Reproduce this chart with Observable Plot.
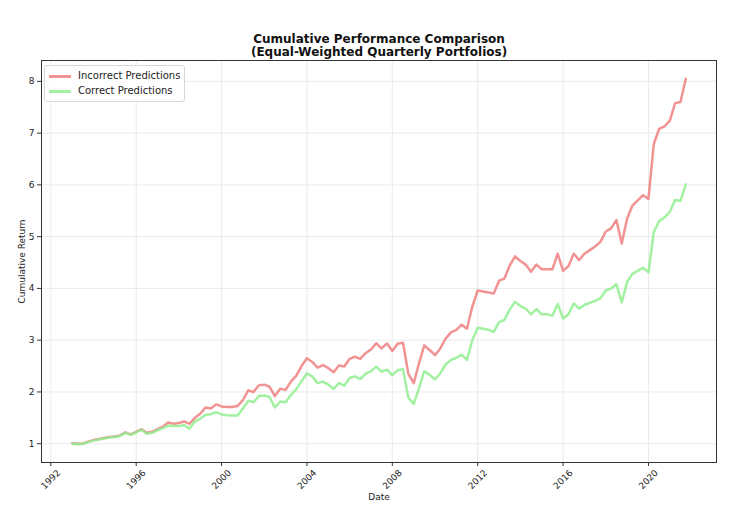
<!DOCTYPE html>
<html>
<head>
<meta charset="utf-8">
<script src="https://cdn.jsdelivr.net/npm/d3@7"></script>
<script src="https://cdn.jsdelivr.net/npm/@observablehq/plot@0.6"></script>
<style>
  html, body { margin: 0; padding: 0; background: #fff; }
  #wrap { position: relative; width: 750px; height: 505px; font-family: "DejaVu Sans", sans-serif; }
  #legend { position: absolute; left: 44px; top: 65px; width: 139px; height: 35px;
    border: 1px solid #d6d6d6; border-radius: 3px; background: rgba(255,255,255,0.85);
    font-size: 10px; color: #222; }
  .row { position: absolute; left: 0; height: 14px; line-height: 14px; }
  .sw { position: absolute; left: 4px; top: 6px; width: 22px; height: 2.5px; }
  .lab { position: absolute; left: 33px; top: 0; white-space: nowrap; }
</style>
</head>
<body>
<div id="wrap">
  <div id="chart"></div>
  <div id="legend">
    <div class="row" style="top:3px"><span class="sw" style="background:rgba(240,128,128,0.85)"></span><span class="lab">Incorrect Predictions</span></div>
    <div class="row" style="top:18px"><span class="sw" style="background:rgba(144,238,144,0.85)"></span><span class="lab">Correct Predictions</span></div>
  </div>
</div>
<script>
// Quarterly cumulative returns, 1993 Q1 .. 2021 Q4 (116 quarters)
const startYear = 1993;
const quarterCount = 116;

const incorrect = [
  1.01, 1.00, 1.00, 1.04,
  1.07, 1.09, 1.11, 1.13,
  1.14, 1.16, 1.22, 1.18,
  1.23, 1.28, 1.21, 1.23,
  1.28, 1.33, 1.41, 1.385,
  1.40, 1.43, 1.385, 1.50,
  1.58, 1.70, 1.68, 1.76,
  1.72, 1.71, 1.71, 1.73,
  1.84, 2.03, 2.00, 2.13,
  2.14, 2.10, 1.92, 2.06,
  2.04, 2.20, 2.31, 2.50,
  2.65, 2.58, 2.47, 2.52,
  2.46, 2.38, 2.51, 2.49,
  2.64, 2.68, 2.64, 2.75,
  2.82, 2.94, 2.84, 2.94,
  2.79, 2.93, 2.95, 2.35,
  2.17, 2.55, 2.90, 2.81,
  2.71, 2.84, 3.03, 3.15,
  3.20, 3.30, 3.22, 3.65,
  3.96, 3.94, 3.92, 3.90,
  4.15, 4.19, 4.44, 4.62,
  4.53, 4.46, 4.32, 4.46,
  4.37, 4.37, 4.37, 4.67,
  4.34, 4.43, 4.67, 4.55,
  4.67, 4.74, 4.81, 4.90,
  5.10, 5.16, 5.32, 4.87,
  5.35, 5.60, 5.70, 5.80,
  5.73, 6.79, 7.08, 7.13,
  7.24, 7.58, 7.60, 8.05
];

const correct = [
  1.00, 0.99, 1.00, 1.03,
  1.06, 1.08, 1.10, 1.12,
  1.13, 1.15, 1.21, 1.17,
  1.22, 1.27, 1.19, 1.21,
  1.26, 1.30, 1.35, 1.34,
  1.34, 1.36, 1.29, 1.43,
  1.48, 1.56, 1.57, 1.61,
  1.565, 1.55, 1.545, 1.545,
  1.68, 1.83, 1.80, 1.92,
  1.93, 1.90, 1.70, 1.815,
  1.80, 1.94, 2.05, 2.21,
  2.36, 2.30, 2.17, 2.20,
  2.14, 2.06, 2.17, 2.12,
  2.27, 2.30, 2.25, 2.35,
  2.40, 2.49, 2.39, 2.43,
  2.32, 2.42, 2.44, 1.89,
  1.77, 2.07, 2.40, 2.33,
  2.24, 2.36, 2.53, 2.62,
  2.66, 2.72, 2.62, 3.00,
  3.24, 3.22, 3.20, 3.16,
  3.35, 3.39, 3.59, 3.74,
  3.66, 3.61, 3.50, 3.60,
  3.50, 3.50, 3.47, 3.70,
  3.42, 3.50, 3.71, 3.61,
  3.68, 3.72, 3.76, 3.81,
  3.96, 4.00, 4.08, 3.73,
  4.13, 4.28, 4.34, 4.40,
  4.31, 5.09, 5.30, 5.37,
  5.48, 5.71, 5.69, 6.01
];

const xTickYears = [1992, 1996, 2000, 2004, 2008, 2012, 2016, 2020];
const yTicks = [1, 2, 3, 4, 5, 6, 7, 8];

const dates = d3.utcMonth.every(3).range(new Date(Date.UTC(startYear, 0, 1)), new Date(Date.UTC(startYear, quarterCount * 3 - 2, 1)));
const rows = dates.map((d, i) => ({date: d, incorrect: incorrect[i], correct: correct[i]}));
const xTicks = xTickYears.map(y => new Date(Date.UTC(y, 0, 1)));

const t0 = +dates[0], t1 = +dates[dates.length - 1];
const padT = (t1 - t0) * 0.05;
const allV = incorrect.concat(correct);
const vMin = d3.min(allV), vMax = d3.max(allV);
const padV = (vMax - vMin) * 0.05;

const chart = Plot.plot({
  width: 750,
  height: 505,
  marginLeft: 41,
  marginRight: 34,
  marginTop: 60,
  marginBottom: 43,
  style: {fontFamily: "DejaVu Sans", fontSize: "9px", background: "#fff", color: "#222"},
  x: {type: "utc", domain: [new Date(t0 - padT), new Date(t1 + padT)], label: null},
  y: {domain: [vMin - padV, vMax + padV], label: null},
  marks: [
    Plot.gridX(xTicks, {stroke: "#e6e6e6", strokeOpacity: 1, strokeWidth: 0.8}),
    Plot.gridY(yTicks, {stroke: "#e6e6e6", strokeOpacity: 1, strokeWidth: 0.8}),
    Plot.line(rows, {x: "date", y: "incorrect", stroke: "#F08080", strokeOpacity: 0.85, strokeWidth: 2.5, strokeLinejoin: "round"}),
    Plot.line(rows, {x: "date", y: "correct", stroke: "#90EE90", strokeOpacity: 0.85, strokeWidth: 2.5, strokeLinejoin: "round"}),
    Plot.frame({stroke: "#333", strokeWidth: 1}),
    Plot.axisY(yTicks, {tickSize: 4, tickPadding: 3, tickFormat: d => String(d), label: null, fontSize: 9, stroke: "#333"}),
    Plot.axisX(xTicks, {tickSize: 4, tickFormat: () => "", label: null, stroke: "#333"}),
    Plot.text(xTicks, {x: d => d, frameAnchor: "bottom", dy: 17, rotate: -45, textAnchor: "middle", lineAnchor: "middle", text: d => String(d.getUTCFullYear()), fontSize: 9, fill: "#222"}),
    Plot.text(["Cumulative Return"], {frameAnchor: "left", dx: -19, rotate: -90, textAnchor: "middle", lineAnchor: "middle", fontSize: 9, fill: "#222"}),
    Plot.text(["Date"], {frameAnchor: "bottom", dy: 35, textAnchor: "middle", lineAnchor: "middle", fontSize: 9, fill: "#222"}),
    Plot.text(["Cumulative Performance Comparison"], {frameAnchor: "top", dy: -21.5, lineAnchor: "middle", fontSize: 12, fontWeight: "bold", fill: "#111"}),
    Plot.text(["(Equal-Weighted Quarterly Portfolios)"], {frameAnchor: "top", dy: -8, lineAnchor: "middle", fontSize: 12, fontWeight: "bold", fill: "#111"})
  ]
});
document.getElementById("chart").append(chart);
</script>
</body>
</html>
